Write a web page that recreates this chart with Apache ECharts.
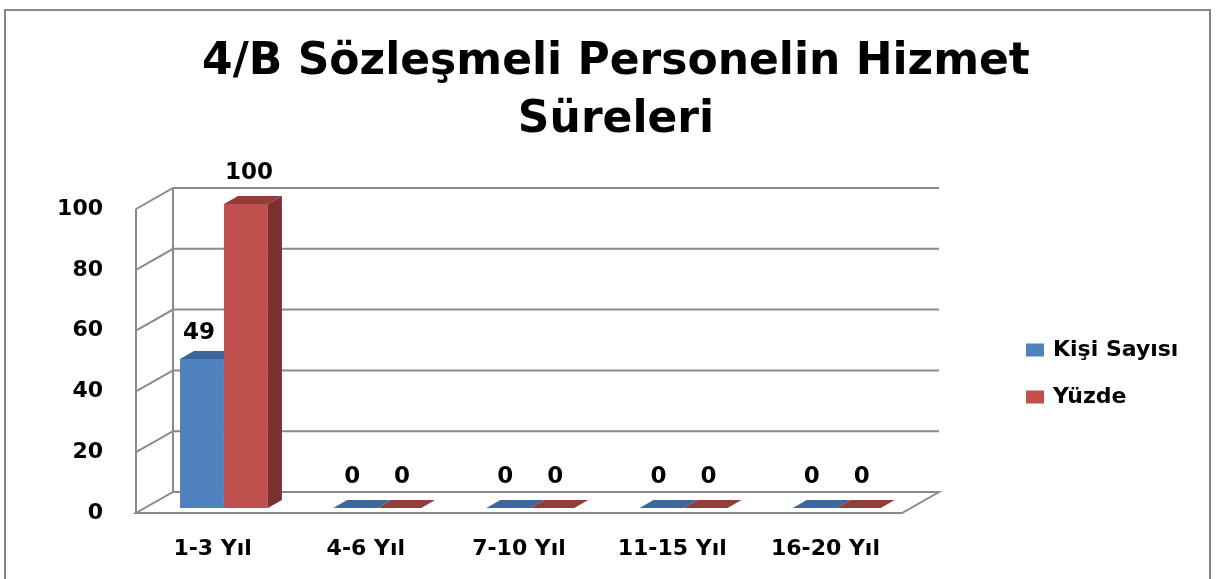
<!DOCTYPE html>
<html>
<head>
<meta charset="utf-8">
<script src="https://cdn.jsdelivr.net/npm/echarts@6/dist/echarts.min.js"></script>
<style>
html,body{margin:0;padding:0;background:#fff;}
#chart{width:1217px;height:579px;}
</style>
</head>
<body>
<div id="chart"></div>
<script>
const categories = ['1-3 Yıl', '4-6 Yıl', '7-10 Yıl', '11-15 Yıl', '16-20 Yıl'];
const kisiSayisi = [49, 0, 0, 0, 0];
const yuzde = [100, 0, 0, 0, 0];
const yTicks = [0, 20, 40, 60, 80, 100];
const seriesNames = ['Kişi Sayısı', 'Yüzde'];

const FONT = '"DejaVu Sans", sans-serif';
const WALL_DX = 37, WALL_DY = 21;      // depth of the back wall
const BAR_SHIFT_Y = 5;                  // bar front face sits slightly behind front plane
const BAR_DX = 14, BAR_DY = 8;          // bar depth
const GRID_COLOR = '#8a8a8a';
const palette = [
  {front: '#4F81BD', top: '#3D679C', side: '#2F5384'},
  {front: '#C0504D', top: '#923D3B', side: '#7A302E'}
];

const chart = echarts.init(document.getElementById('chart'), null, {renderer: 'canvas'});

function wallRender(params, api) {
  const v = api.value(1);
  const bw = api.size([1, 0])[0];
  const p = api.coord([0, v]);
  const xl = p[0] - bw / 2;
  const xr = api.coord([categories.length - 1, v])[0] + bw / 2;
  const y = p[1];
  const children = [];
  const lineStyle = {stroke: GRID_COLOR, lineWidth: 2, fill: null};
  if (v === yTicks[0]) {
    const yTop = api.coord([0, yTicks[yTicks.length - 1]])[1];
    children.push({type: 'polygon', shape: {points: [[xl, y], [xr, y], [xr + WALL_DX, y - WALL_DY], [xl + WALL_DX, y - WALL_DY]]}, style: {stroke: GRID_COLOR, lineWidth: 2, fill: '#fff'}});
    children.push({type: 'line', shape: {x1: xl, y1: y, x2: xl, y2: yTop}, style: lineStyle});
    children.push({type: 'line', shape: {x1: xl + WALL_DX, y1: y - WALL_DY, x2: xl + WALL_DX, y2: yTop - WALL_DY}, style: lineStyle});
  } else {
    children.push({type: 'polyline', shape: {points: [[xl, y], [xl + WALL_DX, y - WALL_DY], [xr + WALL_DX, y - WALL_DY]]}, style: lineStyle});
  }
  return {type: 'group', children: children};
}

function makeBarRender(slot) {
  return function (params, api) {
    const i = api.value(0);
    const v = api.value(1);
    const bw = api.size([1, 0])[0];
    const base = api.coord([i, 0]);
    const x0 = base[0] - bw / 2;
    const L = x0 + bw * (0.287 + slot * 0.287);
    const R = L + bw * 0.287;
    const yb = base[1] - BAR_SHIFT_Y;
    const yt = api.coord([i, v])[1] - BAR_SHIFT_Y;
    const c = palette[slot];
    const children = [];
    if (yb - yt > 0.5) {
      children.push({type: 'polygon', shape: {points: [[R, yt], [R + BAR_DX, yt - BAR_DY], [R + BAR_DX, yb - BAR_DY], [R, yb]]}, style: {fill: c.side}});
      children.push({type: 'rect', shape: {x: L, y: yt, width: R - L, height: yb - yt}, style: {fill: c.front}});
    }
    children.push({type: 'polygon', shape: {points: [[L, yt], [R, yt], [R + BAR_DX, yt - BAR_DY], [L + BAR_DX, yt - BAR_DY]]}, style: {fill: c.top}});
    const dy = (v > 0 && v < 100) ? 26 : 31;
    children.push({type: 'text', style: {text: String(v), x: (L + R) / 2 + (slot === 1 ? 3 : -3), y: yt - dy, align: 'center', verticalAlign: 'middle', fill: '#000', font: 'bold 23px ' + FONT}});
    return {type: 'group', children: children};
  };
}

const option = {
  animation: false,
  backgroundColor: '#fff',
  title: {
    text: '4/B Sözleşmeli Personelin Hizmet\nSüreleri',
    left: 611,
    textAlign: 'center',
    top: 29,
    textStyle: {fontFamily: FONT, fontWeight: 'bold', fontSize: 44, lineHeight: 58, color: '#000'}
  },
  graphic: [{
    type: 'rect', shape: {x: 5, y: 10, width: 1205, height: 600},
    style: {fill: null, stroke: '#868686', lineWidth: 2}, silent: true, z: -1
  }],
  legend: {
    orient: 'vertical',
    left: 1021,
    top: 334,
    itemWidth: 18,
    itemHeight: 13,
    itemGap: 25,
    icon: 'rect',
    data: seriesNames,
    textStyle: {fontFamily: FONT, fontWeight: 'bold', fontSize: 22, lineHeight: 22, color: '#000', padding: [0, 0, 0, 4]}
  },
  grid: {left: 136, top: 209, width: 766, height: 304, containLabel: false},
  xAxis: {
    type: 'category',
    data: categories,
    axisLine: {show: false},
    axisTick: {show: false},
    axisLabel: {color: '#000', fontFamily: FONT, fontWeight: 'bold', fontSize: 22, margin: 25},
    splitLine: {show: false}
  },
  yAxis: {
    type: 'value',
    min: 0, max: 100, interval: 20,
    axisLine: {show: false},
    axisTick: {show: false},
    splitLine: {show: false},
    axisLabel: {color: '#000', fontFamily: FONT, fontWeight: 'bold', fontSize: 22, margin: 33}
  },
  series: [
    {
      type: 'custom', name: '_walls', silent: true, z: 1,
      renderItem: wallRender,
      encode: {x: 0, y: 1},
      data: yTicks.map(v => [0, v])
    },
    {
      type: 'custom', name: seriesNames[0], z: 2, silent: true,
      itemStyle: {color: palette[0].front},
      renderItem: makeBarRender(0),
      encode: {x: 0, y: 1},
      data: categories.map((c, i) => [i, kisiSayisi[i]])
    },
    {
      type: 'custom', name: seriesNames[1], z: 3, silent: true,
      itemStyle: {color: palette[1].front},
      renderItem: makeBarRender(1),
      encode: {x: 0, y: 1},
      data: categories.map((c, i) => [i, yuzde[i]])
    }
  ]
};
chart.setOption(option);
</script>
</body>
</html>
